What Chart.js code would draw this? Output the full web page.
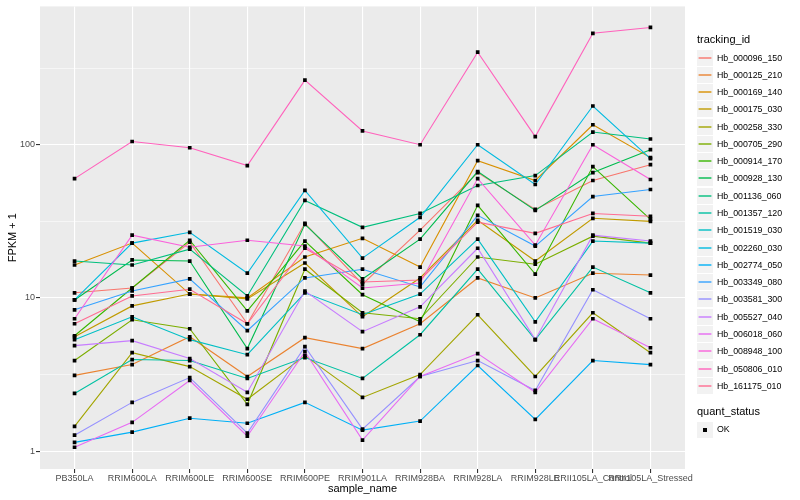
<!DOCTYPE html>
<html>
<head>
<meta charset="utf-8">
<script src="https://cdn.jsdelivr.net/npm/chart.js@4.4.0/dist/chart.umd.min.js"></script>
<style>
  body { margin: 0; background: #fff; font-family: "Liberation Sans", Arial, sans-serif; }
  #wrap { position: relative; width: 800px; height: 500px; overflow: hidden; }
  #chart { position: absolute; left: 0; top: 0; }
  .lg-title { position: absolute; font-size: 11px; line-height: 13px; color: #000; white-space: nowrap; }
  .lg-key { position: absolute; width: 16px; height: 16px; background: #F2F2F2; }
  .lg-key svg { position: absolute; left: 0; top: 0; }
  .lg-dot { position: absolute; left: 6px; top: 6px; width: 4px; height: 4px; background: #000; }
  .lg-label { position: absolute; font-size: 8.8px; line-height: 10px; color: #000; white-space: nowrap; }
</style>
</head>
<body>
<div id="wrap">
  <canvas id="chart" width="800" height="500"></canvas>
  <div id="legend"></div>
</div>
<script>
// Categorías del eje x
const sampleNames = ['PB350LA', 'RRIM600LA', 'RRIM600LE', 'RRIM600SE', 'RRIM600PE', 'RRIM901LA',
                     'RRIM928BA', 'RRIM928LA', 'RRIM928LE', 'RRII105LA_Control', 'RRII105LA_Stressed'];

const trackingIds = ['Hb_000096_150', 'Hb_000125_210', 'Hb_000169_140', 'Hb_000175_030', 'Hb_000258_330',
                     'Hb_000705_290', 'Hb_000914_170', 'Hb_000928_130', 'Hb_001136_060', 'Hb_001357_120',
                     'Hb_001519_030', 'Hb_002260_030', 'Hb_002774_050', 'Hb_003349_080', 'Hb_003581_300',
                     'Hb_005527_040', 'Hb_006018_060', 'Hb_008948_100', 'Hb_050806_010', 'Hb_161175_010'];

const seriesColors = ['#F8766D', '#EA8331', '#D89000', '#C09B00', '#A3A500', '#7CAE00', '#39B600',
                      '#00BB4E', '#00BF7D', '#00C1A3', '#00BFC4', '#00BAE0', '#00B0F6', '#35A2FF',
                      '#9590FF', '#C77CFF', '#E76BF3', '#FA62DB', '#FF62BC', '#FF6C91'];

const yTickValues = [1, 10, 100];
const yMinorValues = [3.162, 31.62, 316.2];

// FPKM + 1 por muestra
const hb000096_150 = [10.8, 11.6, 23.1, 6.78, 30.7, 12.3, 27.7, 65.8, 37.8, 58.4, 74.1];
const hb000125_210 = [3.12, 3.67, 5.58, 3.07, 5.50, 4.67, 6.78, 13.5, 10.0, 14.5, 14.1];
const hb000169_140 = [16.4, 22.8, 10.6, 10.0, 18.5, 24.5, 15.9, 78.7, 58.4, 135, 82.4];
const hb000175_030 = [5.58, 8.87, 10.6, 9.86, 16.9, 7.53, 13.5, 32.1, 17.4, 33.1, 31.6];
const hb000258_330 = [1.45, 4.39, 3.56, 2.18, 4.20, 2.24, 3.16, 7.76, 3.07, 8.0, 4.39];
const hb000705_290 = [3.90, 7.2, 6.29, 2.02, 15.4, 8.0, 7.31, 18.5, 16.6, 25.3, 22.8];
const hb000914_170 = [5.66, 11.6, 23.8, 8.24, 23.5, 10.5, 6.98, 40.2, 14.3, 72.0, 32.6];
const hb000928_130 = [9.70, 17.7, 17.4, 4.67, 30.2, 13.3, 24.2, 66.8, 37.3, 65.8, 92.8];
const hb001136_060 = [17.4, 16.4, 20.8, 10.3, 43.3, 28.9, 35.6, 54.2, 62.9, 121, 109];
const hb001357_120 = [2.38, 3.96, 3.90, 2.98, 4.08, 2.98, 5.75, 15.4, 5.34, 15.9, 10.8];
const hb001519_030 = [5.34, 7.53, 5.34, 4.26, 10.8, 7.76, 10.6, 24.2, 6.98, 23.5, 22.8];
const hb002260_030 = [9.70, 22.8, 26.8, 14.5, 50.3, 18.2, 33.6, 100, 55.0, 179, 81.1];
const hb002774_050 = [1.14, 1.33, 1.64, 1.52, 2.08, 1.37, 1.57, 3.62, 1.61, 3.90, 3.67];
const hb003349_080 = [8.36, 11.1, 13.3, 6.11, 13.5, 15.4, 11.8, 34.6, 21.8, 45.9, 51.0];
const hb003581_300 = [1.27, 2.08, 3.02, 1.31, 4.81, 1.39, 3.07, 3.90, 2.49, 11.3, 7.31];
const hb005527_040 = [4.88, 5.26, 4.02, 2.42, 11.1, 6.02, 8.74, 21.1, 5.34, 25.7, 23.5];
const hb006018_060 = [1.06, 1.54, 2.89, 1.25, 4.46, 1.18, 3.07, 4.33, 2.42, 7.31, 4.73];
const hb008948_100 = [7.31, 25.7, 21.4, 23.8, 21.8, 11.6, 12.5, 60.1, 22.1, 100, 59.3];
const hb050806_010 = [60.1, 105, 95.6, 73.1, 264, 123, 100, 402, 113, 534, 583];
const hb161175_010 = [6.78, 10.3, 11.4, 6.78, 21.1, 12.7, 13.1, 31.2, 26.4, 35.6, 34.1];

const seriesValues = [hb000096_150, hb000125_210, hb000169_140, hb000175_030, hb000258_330,
                      hb000705_290, hb000914_170, hb000928_130, hb001136_060, hb001357_120,
                      hb001519_030, hb002260_030, hb002774_050, hb003349_080, hb003581_300,
                      hb005527_040, hb006018_060, hb008948_100, hb050806_010, hb161175_010];

// Fondo gris del panel
const panelBackground = {
    id: 'panelBackground',
    beforeDraw(chart) {
        const { ctx, chartArea } = chart;
        ctx.save();
        ctx.fillStyle = '#EBEBEB';
        ctx.fillRect(chartArea.left, chartArea.top, chartArea.width, chartArea.height);
        ctx.restore();
    }
};

const isMajor = v => yTickValues.some(t => Math.abs(t - v) < 1e-6);

const datasets = trackingIds.map((id, i) => ({
    label: id,
    data: seriesValues[i].map((v, j) => ({ x: j + 1, y: v })),
    borderColor: seriesColors[i],
    backgroundColor: seriesColors[i],
    borderWidth: 1.1,
    pointRadius: 0,
    fill: false,
    tension: 0,
    order: trackingIds.length - i
}));

// Puntos negros encima de todas las líneas
datasets.push({
    label: 'OK',
    data: seriesValues.flatMap(vals => vals.map((v, j) => ({ x: j + 1, y: v }))),
    showLine: false,
    pointStyle: 'rect',
    pointRadius: 2.6,
    pointBackgroundColor: '#000',
    pointBorderWidth: 0,
    order: 0
});

Chart.defaults.font.family = '"Liberation Sans", Arial, sans-serif';

new Chart(document.getElementById('chart').getContext('2d'), {
    type: 'line',
    data: { datasets: datasets },
    options: {
        responsive: false,
        animation: false,
        devicePixelRatio: 1,
        layout: { padding: { left: 0, top: 5, right: 115, bottom: 0 } },
        plugins: {
            legend: { display: false },
            tooltip: { enabled: false }
        },
        scales: {
            x: {
                type: 'linear',
                min: 0.4,
                max: 11.6,
                afterBuildTicks: scale => {
                    scale.ticks = sampleNames.map((_, i) => ({ value: i + 1 }));
                },
                afterFit: scale => { scale.height = 31; },
                ticks: {
                    callback: v => sampleNames[v - 1],
                    autoSkip: false,
                    maxRotation: 0,
                    minRotation: 0,
                    padding: 0,
                    color: '#4D4D4D',
                    font: { size: 9 }
                },
                grid: {
                    color: '#FFFFFF',
                    lineWidth: 1.1,
                    tickColor: '#333333',
                    tickLength: 4
                },
                border: { display: false },
                title: {
                    display: true,
                    text: 'sample_name',
                    color: '#000',
                    font: { size: 11 },
                    padding: { top: 0, bottom: 4.4 }
                }
            },
            y: {
                type: 'logarithmic',
                min: 0.764,
                max: 800,
                afterBuildTicks: scale => {
                    scale.ticks = yTickValues.concat(yMinorValues).sort((a, b) => a - b).map(v => ({ value: v }));
                },
                afterFit: scale => { scale.width = 40; },
                ticks: {
                    callback: v => isMajor(v) ? String(v) : '',
                    autoSkip: false,
                    padding: 1,
                    color: '#4D4D4D',
                    font: { size: 9 }
                },
                grid: {
                    color: '#FFFFFF',
                    lineWidth: ctx => isMajor(ctx.tick.value) ? 1.1 : 0.55,
                    tickColor: ctx => isMajor(ctx.tick.value) ? '#333333' : 'rgba(0,0,0,0)',
                    tickLength: 4
                },
                border: { display: false },
                title: {
                    display: true,
                    text: 'FPKM + 1',
                    color: '#000',
                    font: { size: 11 },
                    padding: { top: 6.5, bottom: 0 }
                }
            }
        }
    },
    plugins: [panelBackground]
});

// Leyenda estilo ggplot
function buildLegend() {
    const legend = document.getElementById('legend');
    const left = 697;
    const step = 17.28;
    let html = `<div class="lg-title" style="left:${left}px;top:33px">tracking_id</div>`;
    trackingIds.forEach((id, i) => {
        const top = Math.round(49.5 + i * step);
        html += `<div class="lg-key" style="left:${left}px;top:${top}px">` +
                `<svg width="16" height="16"><line x1="1.6" y1="8" x2="14.4" y2="8" stroke="${seriesColors[i]}" stroke-width="1.4"/></svg></div>` +
                `<div class="lg-label" style="left:${left + 20}px;top:${top + 3}px">${id}</div>`;
    });
    html += `<div class="lg-title" style="left:${left}px;top:405px">quant_status</div>`;
    html += `<div class="lg-key" style="left:${left}px;top:422px"><div class="lg-dot"></div></div>` +
            `<div class="lg-label" style="left:${left + 20}px;top:424px">OK</div>`;
    legend.innerHTML = html;
}
buildLegend();
</script>
</body>
</html>
